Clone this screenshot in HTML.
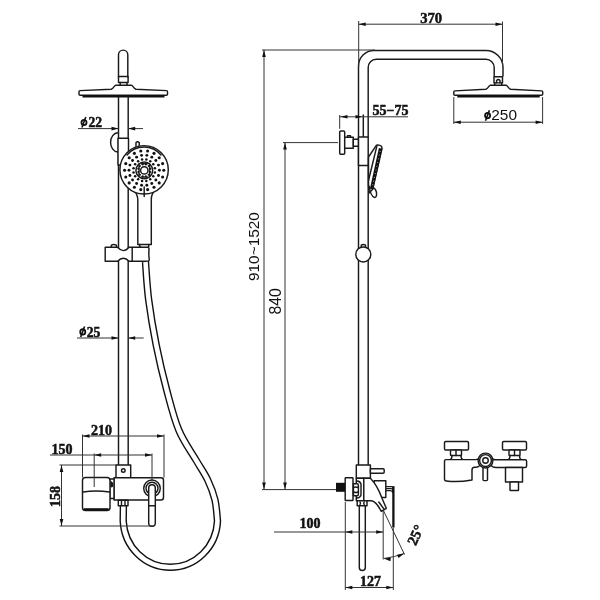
<!DOCTYPE html>
<html><head><meta charset="utf-8">
<style>
html,body{margin:0;padding:0;background:#fff;width:600px;height:600px;overflow:hidden}
svg{display:block;will-change:transform}
.o{fill:none;stroke:#1a1a1a;stroke-width:1.45;stroke-linejoin:round;stroke-linecap:round}
.w{fill:#fff;stroke:#1a1a1a;stroke-width:1.45;stroke-linejoin:round}
.d{fill:none;stroke:#333;stroke-width:1}
.a{fill:#111;stroke:none}
.ts{font-family:"Liberation Serif",serif;font-weight:bold;fill:#111;stroke:#111;stroke-width:0.5}
.tn{font-family:"Liberation Sans",sans-serif;fill:#111}
</style></head>
<body>
<svg width="600" height="600" viewBox="0 0 600 600">
<defs>
<path id="ar" d="M0,0 L-7,-1.8 L-7,1.8 Z"/>
<g id="phi" fill="none" stroke="#111" stroke-width="1.75"><ellipse cx="0" cy="0" rx="2.55" ry="2.65"/><path d="M1.8,-5.4 L-2.1,5.1" stroke-width="1.6"/></g>
</defs>

<!-- ============ LEFT FIGURE ============ -->
<!-- top arm -->
<path class="o" d="M118.5,77 V54.8 A4.65,4.65 0 0 1 127.8,54.8 V77"/>
<rect class="o" x="118.5" y="76.5" width="9.6" height="6"/>
<path class="o" d="M120.2,82.5 V85.3 M127,82.5 V85.3"/>
<!-- head -->
<path class="w" d="M79.8,90.6 L111.3,89.2 C113.8,88.4 114.6,85.2 115.6,85.2 L131.6,85.2 C132.6,85.2 133.4,88.4 135.9,89.2 L166.7,90.6 Q167.5,90.6 167.5,92.0 L167.5,94.2 Q167.5,95.2 166.3,95.2 L80.2,95.2 Q79.0,95.2 79.0,94.2 L79.0,92.0 Q79.0,90.6 79.8,90.6 Z"/>
<path d="M82.5,96.2 H164.5" stroke="#111" stroke-width="2.5"/>

<!-- rod -->
<path class="o" d="M118.5,97 V465 M128.2,97 V465"/>

<!-- holder near top -->
<path class="o" d="M117.8,132.8 A7.2,9.6 0 0 0 117.8,152" stroke-width="1.3"/>
<rect class="w" x="118" y="138.3" width="10.5" height="26.7"/>
<path class="o" d="M136,146.5 V142.5 Q137.6,140.8 139.2,142.5 V146.5" stroke-width="1.4"/>

<!-- hand shower front -->
<path class="w" d="M133.5,189 C136.5,193 137.8,196 137.8,200 L137.8,244.5 L151.3,244.5 L151.3,199 C151.3,196 152.5,193 155,189 Z"/>
<circle class="w" cx="144.1" cy="169.8" r="24.2" stroke-width="1.9"/>
<path class="o" d="M127,155 A22,22 0 0 1 161,155" stroke-width="1"/>
<g fill="#111"><circle cx="163.80" cy="170.30" r="1.55"/><circle cx="162.62" cy="177.00" r="1.55"/><circle cx="159.21" cy="182.90" r="1.55"/><circle cx="154.00" cy="187.27" r="1.55"/><circle cx="147.60" cy="189.60" r="1.55"/><circle cx="140.80" cy="189.60" r="1.55"/><circle cx="134.40" cy="187.27" r="1.55"/><circle cx="129.19" cy="182.90" r="1.55"/><circle cx="125.78" cy="177.00" r="1.55"/><circle cx="124.60" cy="170.30" r="1.55"/><circle cx="125.78" cy="163.60" r="1.55"/><circle cx="129.19" cy="157.70" r="1.55"/><circle cx="134.40" cy="153.33" r="1.55"/><circle cx="140.80" cy="151.00" r="1.55"/><circle cx="147.60" cy="151.00" r="1.55"/><circle cx="154.00" cy="153.33" r="1.55"/><circle cx="159.21" cy="157.70" r="1.55"/><circle cx="162.62" cy="163.60" r="1.55"/><circle cx="159.40" cy="170.30" r="1.45"/><circle cx="158.48" cy="175.50" r="1.45"/><circle cx="155.84" cy="180.07" r="1.45"/><circle cx="151.80" cy="183.46" r="1.45"/><circle cx="146.84" cy="185.27" r="1.45"/><circle cx="141.56" cy="185.27" r="1.45"/><circle cx="136.60" cy="183.46" r="1.45"/><circle cx="132.56" cy="180.07" r="1.45"/><circle cx="129.92" cy="175.50" r="1.45"/><circle cx="129.00" cy="170.30" r="1.45"/><circle cx="129.92" cy="165.10" r="1.45"/><circle cx="132.56" cy="160.53" r="1.45"/><circle cx="136.60" cy="157.14" r="1.45"/><circle cx="141.56" cy="155.33" r="1.45"/><circle cx="146.84" cy="155.33" r="1.45"/><circle cx="151.80" cy="157.14" r="1.45"/><circle cx="155.84" cy="160.53" r="1.45"/><circle cx="158.48" cy="165.10" r="1.45"/><circle cx="154.89" cy="172.43" r="1.25"/><circle cx="153.26" cy="176.36" r="1.25"/><circle cx="150.26" cy="179.36" r="1.25"/><circle cx="146.33" cy="180.99" r="1.25"/><circle cx="142.07" cy="180.99" r="1.25"/><circle cx="138.14" cy="179.36" r="1.25"/><circle cx="135.14" cy="176.36" r="1.25"/><circle cx="133.51" cy="172.43" r="1.25"/><circle cx="133.51" cy="168.17" r="1.25"/><circle cx="135.14" cy="164.24" r="1.25"/><circle cx="138.14" cy="161.24" r="1.25"/><circle cx="142.07" cy="159.61" r="1.25"/><circle cx="146.33" cy="159.61" r="1.25"/><circle cx="150.26" cy="161.24" r="1.25"/><circle cx="153.26" cy="164.24" r="1.25"/><circle cx="154.89" cy="168.17" r="1.25"/></g>
<circle class="o" cx="144.3" cy="170.4" r="8.4" stroke-width="1.5"/><circle class="o" cx="144.3" cy="170.4" r="3.7" stroke-width="2.3"/><g fill="#111"><circle cx="150.29" cy="172.00" r="1.05"/><circle cx="148.68" cy="174.78" r="1.05"/><circle cx="145.90" cy="176.39" r="1.05"/><circle cx="142.70" cy="176.39" r="1.05"/><circle cx="139.92" cy="174.78" r="1.05"/><circle cx="138.31" cy="172.00" r="1.05"/><circle cx="138.31" cy="168.80" r="1.05"/><circle cx="139.92" cy="166.02" r="1.05"/><circle cx="142.70" cy="164.41" r="1.05"/><circle cx="145.90" cy="164.41" r="1.05"/><circle cx="148.68" cy="166.02" r="1.05"/><circle cx="150.29" cy="168.80" r="1.05"/></g><path class="o" stroke-width="1.1" d="M139.0,164.0 V176.8 M149.6,164.0 V176.8 M141.3,163.8 H147.3 M141.3,177.0 H147.3"/>
<path class="o" d="M144.2,187 V196.5" stroke-width="2"/>

<!-- collar under handle -->
<path class="o" d="M139.5,244.5 Q139.5,247.3 141.5,247.8 M148.8,244.5 Q149,247.3 147.5,247.8" stroke-width="1.3"/>

<!-- slider bracket -->
<path class="w" d="M105.2,247.3 H117.5 Q120.5,250.6 123.3,250.6 Q126.3,250.6 129,247.3 H147.5 Q149.2,247.3 149,249.5 Q148.6,254.5 149.2,259 Q149.4,261.3 147.5,261.3 H129 Q126.3,258.3 123.3,258.3 Q120.5,258.3 117.5,261.3 H105.2 Z"/>
<path class="o" d="M132.2,247.5 V261.3" stroke-width="1.8"/>
<path class="o" d="M111.3,247.3 V245.5 Q111.5,244.4 113.5,244.4 Q116.3,244.4 116.5,245.5 V247.3" stroke-width="1.3"/>

<!-- hose -->
<path id="hose" d="M145.5,262.0 C146.0,268.3 146.9,286.2 148.7,300.0 C150.5,313.8 153.2,330.0 156.2,345.0 C159.2,360.0 162.9,375.8 166.7,390.0 C170.5,404.2 173.9,418.3 178.8,430.0 C183.6,441.7 191.2,451.7 196.0,460.0 C200.8,468.3 204.5,473.3 207.7,480.0 C210.9,486.7 213.4,493.2 215.0,500.0 C216.6,506.8 217.1,517.5 217.5,521.0 A47.2,48.5 0 0 1 123.2,521 L123.4,505" fill="none" stroke="#111" stroke-width="7.4"/>
<path d="M145.5,262.0 C146.0,268.3 146.9,286.2 148.7,300.0 C150.5,313.8 153.2,330.0 156.2,345.0 C159.2,360.0 162.9,375.8 166.7,390.0 C170.5,404.2 173.9,418.3 178.8,430.0 C183.6,441.7 191.2,451.7 196.0,460.0 C200.8,468.3 204.5,473.3 207.7,480.0 C210.9,486.7 213.4,493.2 215.0,500.0 C216.6,506.8 217.1,517.5 217.5,521.0 A47.2,48.5 0 0 1 123.2,521 L123.4,505" fill="none" stroke="#fff" stroke-width="4.6"/>

<!-- mixer block on rod -->
<rect class="w" x="116" y="465" width="14.7" height="12.7"/>
<circle class="o" cx="123.3" cy="470.5" r="1.8" stroke-width="1.2"/>
<!-- body -->
<path class="w" d="M114,477.7 H161 Q163.5,477.7 163.5,480 V497.5 Q163.5,500 161,500 H114 Z"/>
<!-- connector -->
<path class="w" d="M109.8,479 H114 V498.5 H109.8 Z"/>
<path class="o" d="M111,482 Q113,483 112.5,486 Q111,488 111,484" stroke-width="1"/>
<!-- left box -->
<path class="w" d="M85.5,477.5 H107 Q110,477.5 110,480.5 V507.5 Q110,510.5 107,510.5 H85.5 Q82.5,510.5 82.5,507.5 V480.5 Q82.5,477.5 85.5,477.5 Z"/>
<path class="o" d="M83,492 Q96,490 109.5,492" stroke-width="1.2"/>
<path d="M84,509.3 H108.5" stroke="#111" stroke-width="2.2"/>
<!-- hose nut -->
<rect class="w" x="118.3" y="500.3" width="9.7" height="5.4"/>
<path class="o" d="M121.5,500.5 V505.5 M125,500.5 V505.5" stroke-width="1"/>
<!-- lever ring -->
<circle class="w" cx="152" cy="488.3" r="8.3"/>
<circle class="o" cx="152" cy="488.3" r="6"/>
<path class="w" d="M148.7,488 A3.3,3.3 0 0 1 155.3,488 V523 Q155.3,526.3 152,526.3 Q148.7,526.3 148.7,523 Z"/>
<path class="o" d="M148.7,505.7 H155.3" stroke-width="1.2"/>

<!-- LEFT DIMS -->
<!-- phi22 -->
<path class="d" d="M78,128.6 H118.5 M128.2,128.6 H143"/>
<use href="#ar" class="a" transform="translate(118.5,128.6)"/>
<use href="#ar" class="a" transform="translate(128.2,128.6) rotate(180)"/>
<use href="#phi" transform="translate(84,122.4)"/><text class="ts" x="88.5" y="127" font-size="13.6">22</text>
<!-- phi25 -->
<path class="d" d="M77,338 H118.5 M128.2,338 H143.7"/>
<use href="#ar" class="a" transform="translate(118.5,338)"/>
<use href="#ar" class="a" transform="translate(128.2,338) rotate(180)"/>
<use href="#phi" transform="translate(82.75,331.9)"/><text class="ts" x="86.8" y="336.5" font-size="13.6">25</text>
<!-- 210 -->
<path class="d" d="M82.5,436 H164 M82.5,434.5 V477.5 M164,434.5 V477.7"/>
<use href="#ar" class="a" transform="translate(82.5,436) rotate(180)"/>
<use href="#ar" class="a" transform="translate(164,436)"/>
<text class="ts" x="91" y="435" font-size="14">210</text>
<!-- 150 -->
<path class="d" d="M50,455 H152 M94.2,453.5 V487 M152,453.5 V480"/>
<use href="#ar" class="a" transform="translate(94.2,455) rotate(180)"/>
<use href="#ar" class="a" transform="translate(152,455)"/>
<text class="ts" x="51.5" y="453.5" font-size="14">150</text>
<!-- 158 -->
<path class="d" d="M61.5,465 V526 M59.5,465 H116.5 M59.5,526 H154"/>
<use href="#ar" class="a" transform="translate(61.5,465) rotate(-90)"/>
<use href="#ar" class="a" transform="translate(61.5,526) rotate(90)"/>
<text class="ts" font-size="14" transform="translate(60,507) rotate(-90)">158</text>

<!-- ============ RIGHT FIGURE ============ -->
<!-- pipe -->
<path class="o" d="M358.5,465 V66 A15.5,15.5 0 0 1 374,50.5 H486 A17,17 0 0 1 503,67.5 V76"/>
<path class="o" d="M368.2,137 V67.5 A8,8 0 0 1 376.2,59.3 H486 A8.2,8.2 0 0 1 494.2,67.5 V76"/>
<path class="o" d="M368.2,165.5 V465" />
<path class="o" d="M363.3,115 V137" stroke-width="1.1"/>
<!-- head right -->
<rect class="o" x="494" y="76.7" width="8.5" height="6.2"/>
<path class="o" d="M494.8,82.9 V85.3 M501.7,82.9 V85.3"/>
<path class="o" d="M496.6,82.8 V80.5 Q498.3,78.3 500,80.5 V82.8" stroke-width="1"/>
<path class="w" d="M454.6,90.9 L485.9,89.2 C488.4,88.4 489.2,85.2 490.2,85.2 L506.2,85.2 C507.2,85.2 508.0,88.4 510.5,89.2 L541.9,90.9 Q542.7,90.9 542.7,92.3 L542.7,94.2 Q542.7,95.2 541.5,95.2 L455.0,95.2 Q453.8,95.2 453.8,94.2 L453.8,92.3 Q453.8,90.9 454.6,90.9 Z"/>
<path d="M457.3,96.2 H539.7" stroke="#111" stroke-width="2.5"/>

<!-- valve handle -->
<rect class="w" x="339.7" y="131" width="5" height="23.3" rx="1"/>
<rect class="w" x="344.7" y="137.3" width="8.6" height="11"/>
<rect class="w" x="353.3" y="139.3" width="5.2" height="7"/>
<path class="o" d="M347.5,137.3 V135.8 H350.5 V137.3" stroke-width="1"/>
<!-- sleeve -->
<rect class="w" x="358.5" y="137" width="9.7" height="28.5"/>

<!-- hand shower side -->
<path class="w" d="M368.5,157 L376.5,145.2 Q379,144.3 381.5,146.3 L382,148.5 L372.5,189.5 L369,193 L368.5,185 Z"/>
<path class="o" d="M376.8,146.3 L368.6,180" stroke-width="1.1"/>
<path d="M380.6,148.3 L371.6,189.2" stroke="#111" stroke-width="3.5"/>
<path d="M380.2,151 L372.5,186" stroke="#fff" stroke-width="0.8" stroke-dasharray="0.8,3"/>
<path class="o" d="M369.3,186.5 Q370.5,196 374.5,197.5 Q377,197.3 376.5,192.5 Q375.5,188 372.3,187.5" stroke-width="1.2"/>

<!-- slider -->
<path class="o" d="M361.3,247.5 V245.2 Q363.3,243.8 365.5,245.2 V247.5" stroke-width="1.1"/>
<circle class="w" cx="363.3" cy="254.4" r="7.5"/>

<!-- bottom mixer (side) -->
<rect class="w" x="356.3" y="465" width="14.1" height="13.3"/>
<path class="w" d="M370.4,468.8 H383 Q384.2,468.8 384.2,470 V472.1 Q384.2,473.3 383,473.3 H370.4 Z"/>
<!-- lever back -->
<path class="o" d="M385.5,486.6 H391.5 Q393.3,486.6 393.3,488.5 M385.5,488.6 H391 Q393,488.8 393,490.5 M385.5,490.6 H390.5 Q392.8,491 392.8,492.5" stroke-width="0.9"/>
<path d="M393.4,486.2 V527.5" stroke="#111" stroke-width="2.3"/>
<rect class="w" x="374.2" y="480.8" width="11.6" height="16.7"/>
<!-- left column -->
<rect class="w" x="356.3" y="478.3" width="7.5" height="22.5"/>
<path class="o" d="M357,481 Q360,481 361,484 M357,498 Q360,498 361,495 M361,484 V495" stroke-width="0.9"/>
<!-- spout -->
<path class="w" d="M363.8,478.3 H370.4 C374,482 379,490 382,498.3 L386.3,508.3 L381.3,511.3 C379,507 376,501.5 371.7,500.8 H363.8 Z"/>
<path class="o" d="M378.8,502 L384.2,509.4" stroke-width="0.9"/>
<!-- flange + nut + thread -->
<rect class="w" x="345.2" y="477.7" width="7.8" height="22.8" rx="0.6"/>
<path class="w" d="M353.4,483.8 H357 Q358.4,483.8 358.4,485.5 V494 Q358.4,495.8 357,495.8 H353.4 Z"/>
<path class="o" d="M353.6,487.5 Q356,486.5 358.2,487.5 M353.6,492 Q356,493 358.2,492" stroke-width="0.9"/>
<rect x="336" y="482.8" width="9" height="9" fill="#111"/>

<!-- hose nut + pipe -->
<path class="o" d="M359.3,505.8 V567.5 A3,3 0 0 0 365.3,567.5 V505.8" />
<rect class="w" x="357.2" y="500.8" width="9.8" height="5"/>
<path class="o" d="M360,502 Q361,503.3 360,504.6 M364.2,502 Q363.2,503.3 364.2,504.6" stroke-width="0.8"/>

<!-- RIGHT DIMS -->
<!-- 370 -->
<path class="d" d="M358.7,24.2 H502.5 M358.7,21 V67 M502.5,21.5 V67"/>
<use href="#ar" class="a" transform="translate(358.7,24.2) rotate(180)"/>
<use href="#ar" class="a" transform="translate(502.5,24.2)"/>
<text class="ts" x="420.2" y="22.9" font-size="15.6" textLength="22" lengthAdjust="spacingAndGlyphs">370</text>
<!-- phi250 -->
<path class="d" d="M453.8,122.2 H542.6 M453.8,97 V124 M542.6,97 V124"/>
<use href="#ar" class="a" transform="translate(453.8,122.2) rotate(180)"/>
<use href="#ar" class="a" transform="translate(542.6,122.2)"/>
<use href="#phi" transform="translate(487.6,115.6)"/><text class="tn" x="491.3" y="120.1" font-size="15.4">250</text>
<!-- 55-75 -->
<path class="d" d="M339.7,116.8 H408 M339.7,115 V128.8"/>
<use href="#ar" class="a" transform="translate(340.5,116.8) rotate(180)"/>
<use href="#ar" class="a" transform="translate(362.5,116.8)"/>
<text class="ts" x="372.5" y="115" font-size="14">55−75</text>
<!-- 910~1520 -->
<path class="d" d="M264,50 V489.6 M262,50 H375 M262,489.6 H336"/>
<use href="#ar" class="a" transform="translate(264,50) rotate(-90)"/>
<use href="#ar" class="a" transform="translate(264,489.6) rotate(90)"/>
<text class="tn" font-size="15.4" transform="translate(258.5,281) rotate(-90)">910~1520</text>
<!-- 840 -->
<path class="d" d="M285,142.6 V489.6 M283,142.6 H338"/>
<use href="#ar" class="a" transform="translate(285,142.6) rotate(-90)"/>
<use href="#ar" class="a" transform="translate(285,489.6) rotate(90)"/>
<text class="tn" font-size="15.8" transform="translate(281,314.5) rotate(-90)">840</text>
<!-- 100 -->
<path class="d" d="M274,532 H383.2 M345.3,502 V590 M383.2,510 V559.5"/>
<use href="#ar" class="a" transform="translate(345.3,532) rotate(180)"/>
<use href="#ar" class="a" transform="translate(383.2,532)"/>
<text class="ts" x="299.6" y="528" font-size="14">100</text>
<!-- 127 -->
<path class="d" d="M345.3,587.5 H393.3 M393.3,527.5 V590"/>
<use href="#ar" class="a" transform="translate(345.3,587.5) rotate(180)"/>
<use href="#ar" class="a" transform="translate(393.3,587.5)"/>
<text class="ts" x="360" y="585.8" font-size="14">127</text>
<!-- 25 deg -->
<path class="d" d="M383.2,510 L404.5,554.5 M383.7,558.5 Q395,557 404.2,553.5"/>
<use href="#ar" class="a" transform="translate(383.7,558.5) rotate(188)"/>
<use href="#ar" class="a" transform="translate(404.2,553.5) rotate(-24)"/>
<text class="ts" font-size="14.6" transform="translate(415.8,546.3) rotate(-66)">25°</text>

<!-- ============ FRONT MIXER (far right) ============ -->
<rect class="w" x="444.5" y="441.5" width="24" height="8.5" rx="1.2"/>
<rect class="w" x="502.5" y="441.5" width="24" height="8.5" rx="1.2"/>
<rect class="w" x="450.5" y="450" width="11" height="5.5" rx="0.8"/>
<path class="o" d="M456,450 V455.5" stroke-width="1"/>
<rect class="w" x="509" y="450" width="11" height="5.5" rx="0.8"/>
<path class="o" d="M514.5,450 V455.5" stroke-width="1"/>
<path class="o" d="M450,459.6 Q452,459 452,455.5 M461,455.5 Q461,459 463,459.6 M508,459.8 Q510,459 510,455.5 M519.5,455.5 Q519.5,459 521.5,459.8" stroke-width="1.1"/>
<path class="w" d="M446,459.6 H476 Q479,459.6 480.5,456.5 L490.5,456.5 Q492,459.8 495,459.8 H525 Q526.6,459.8 526.6,461.3 V466 Q526.6,467.5 525,467.5 H496 Q492,467.5 490.5,464.5 L480.5,464.5 Q479,467.2 476,467.2 H474.5 Q472,467.2 472,470 V480 Q458,482.5 446.5,481 Q444.5,480.8 444.5,479 V461 Q444.5,459.6 446,459.6 Z"/>
<rect class="w" x="505.5" y="467.5" width="17" height="14.5"/>
<rect class="w" x="510" y="482" width="8.5" height="8.5" rx="0.6"/>
<path class="w" d="M483,466.5 V479.5 Q483,480.6 484,480.6 H486.5 Q487.5,480.6 487.5,479.5 V466.5"/>
<circle class="w" cx="485.5" cy="460.5" r="7.4"/>
<circle class="o" cx="485.5" cy="460.5" r="5.9" stroke-width="1"/>
<circle class="o" cx="485.5" cy="460.5" r="2.75" stroke-width="2.1"/>
</svg>
</body></html>
